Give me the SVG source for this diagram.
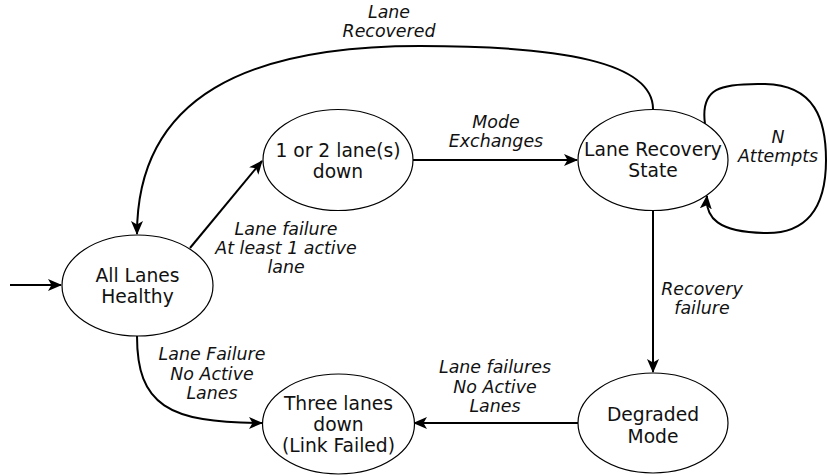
<svg xmlns="http://www.w3.org/2000/svg" width="827" height="475" viewBox="0 0 827 475">
<defs>
<style>
.node ellipse{fill:#fff;stroke:#000;stroke-width:1.2}
.node text{font-family:"DejaVu Sans",Verdana,sans-serif;font-size:18.7px;fill:#111;text-anchor:middle}
.edge{fill:none;stroke:#000;stroke-width:2}
.lbl{font-family:"DejaVu Sans",Verdana,sans-serif;font-size:17.4px;font-style:italic;fill:#111;text-anchor:middle}
</style>
<marker id="arr" markerUnits="userSpaceOnUse" markerWidth="16" markerHeight="14" refX="13" refY="6" orient="auto">
<path d="M0,0 L14,6 L0,12 L3.5,6 Z" fill="#000"/>
</marker>
</defs>
<g id="connectors">
<path class="edge" d="M10,285 L61,285" marker-end="url(#arr)"/>
<path class="edge" d="M653,109 C653,62 560,46 420,46 C250,46 137,95 137,234" marker-end="url(#arr)"/>
<path class="edge" d="M413,160 L577,160" marker-end="url(#arr)"/>
<path class="edge" d="M190,248 L262,161" marker-end="url(#arr)"/>
<path class="edge" d="M705,124 C700,88 720,83 765,84 C815,85 826,120 826,160 C826,210 805,234 765,233 C718,232 705,218 707,196" marker-end="url(#arr)"/>
<path class="edge" d="M653,210 L653,372" marker-end="url(#arr)"/>
<path class="edge" d="M137,336 C137,405 168,423 262,423" marker-end="url(#arr)"/>
<path class="edge" d="M578,423 L414,423" marker-end="url(#arr)"/>
</g>
<g id="labels">
<text class="lbl" x="389" y="18">Lane</text>
<text class="lbl" x="389" y="37">Recovered</text>
<text class="lbl" x="496" y="128">Mode</text>
<text class="lbl" x="496" y="147">Exchanges</text>
<text class="lbl" x="778" y="143">N</text>
<text class="lbl" x="778" y="162">Attempts</text>
<text class="lbl" x="286" y="235">Lane failure</text>
<text class="lbl" x="286" y="254">At least 1 active</text>
<text class="lbl" x="286" y="273">lane</text>
<text class="lbl" x="212" y="360">Lane Failure</text>
<text class="lbl" x="212" y="380">No Active</text>
<text class="lbl" x="212" y="399">Lanes</text>
<text class="lbl" x="702" y="295">Recovery</text>
<text class="lbl" x="702" y="314">failure</text>
<text class="lbl" x="495" y="373">Lane failures</text>
<text class="lbl" x="495" y="393">No Active</text>
<text class="lbl" x="495" y="412">Lanes</text>
</g>
<g id="all-lanes-healthy" class="node">
<ellipse cx="137.5" cy="285.5" rx="75.5" ry="50.5"/>
<text x="137.5" y="282">All Lanes</text>
<text x="137.5" y="303">Healthy</text>
</g>
<g id="one-or-two-down" class="node">
<ellipse cx="338" cy="160" rx="75" ry="50.5"/>
<text x="338" y="157">1 or 2 lane(s)</text>
<text x="338" y="178">down</text>
</g>
<g id="lane-recovery" class="node">
<ellipse cx="653" cy="160" rx="75" ry="50.5"/>
<text x="653" y="156">Lane Recovery</text>
<text x="653" y="177">State</text>
</g>
<g id="degraded-mode" class="node">
<ellipse cx="653" cy="423" rx="75" ry="50"/>
<text x="653" y="421">Degraded</text>
<text x="653" y="443">Mode</text>
</g>
<g id="three-lanes-down" class="node">
<ellipse cx="338.5" cy="424" rx="76" ry="50"/>
<text x="338.5" y="410">Three lanes</text>
<text x="338.5" y="431">down</text>
<text x="338.5" y="452">(Link Failed)</text>
</g>
</svg>
